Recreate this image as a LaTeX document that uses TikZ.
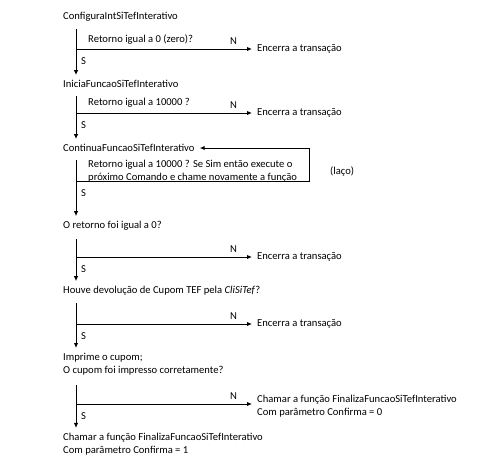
\documentclass[tikz,border=0pt]{standalone}
\usepackage{fontspec}
\setmainfont{Carlito}
\usetikzlibrary{arrows.meta}

\tikzset{
	txt/.style={anchor=west, inner sep=0pt, font=\fontsize{10.6}{12.6}\selectfont},
	lbl/.style={inner sep=1pt, font=\fontsize{10.6}{12.6}\selectfont},
	flow/.style={-{Latex[length=5pt,width=4.5pt]}, line width=1pt, shorten >=5pt},
	loop/.style={-{Latex[length=5pt,width=4.5pt]}, line width=1pt}
}

\begin{document}
\begin{tikzpicture}[x=1pt,y=-1pt]
	\useasboundingbox (0,0) rectangle (488,474);

	\node[txt] (cfg)  at (63,17)  {ConfiguraIntSiTefInterativo};
	\node[txt] (q1)   at (88,40)  {Retorno igual a 0 (zero)?};
	\node[txt] (e1)   at (257,49) {Encerra a transação};
	\node[txt] (ini)  at (63,84)  {IniciaFuncaoSiTefInterativo};
	\node[txt] (q2)   at (88,103) {Retorno igual a 10000 ?};
	\node[txt] (e2)   at (257,113) {Encerra a transação};
	\node[txt] (cont) at (63,148) {ContinuaFuncaoSiTefInterativo};
	\node[txt, align=left] (q3) at (88,171) {Retorno igual a 10000 ? Se Sim então execute o\\próximo Comando e chame novamente a função};
	\node[txt] (laco) at (330,172) {(laço)};
	\node[txt] (ret)  at (63,226) {O retorno foi igual a 0?};
	\node[txt] (e3)   at (257,257) {Encerra a transação};
	\node[txt] (dev)  at (63,291) {Houve devolução de Cupom TEF pela \textit{CliSiTef}?};
	\node[txt] (e4)   at (257,324) {Encerra a transação};
	\node[txt, align=left] (imp)  at (63,364) {Imprime o cupom;\\O cupom foi impresso corretamente?};
	\node[txt, align=left] (fin0) at (257,406) {Chamar a função FinalizaFuncaoSiTefInterativo\\Com parâmetro Confirma = 0};
	\node[txt, align=left] (fin1) at (63,444) {Chamar a função FinalizaFuncaoSiTefInterativo\\Com parâmetro Confirma = 1};

	\coordinate (t1) at (76,29);  \coordinate (j1) at (76,49);
	\coordinate (t2) at (76,96);  \coordinate (j2) at (76,113);
	\coordinate (t3) at (76,160); \coordinate (j3) at (76,181);
	\coordinate (lc) at (309,181);
	\coordinate (t4) at (76,239); \coordinate (j4) at (76,257);
	\coordinate (t5) at (76,303); \coordinate (j5) at (76,324);
	\coordinate (t6) at (76,385); \coordinate (j6) at (76,404);

	\draw[flow] (t1) -- (t1 |- ini.north);
	\draw[flow] (j1) -- node[lbl, pos=.87, above=3pt]{N} (j1 -| e1.west);
	\node[lbl, anchor=west] (s1) at ([xshift=4pt, yshift=-12pt]j1) {S};

	\draw[flow] (t2) -- (t2 |- cont.north);
	\draw[flow] (j2) -- node[lbl, pos=.87, above=3pt]{N} (j2 -| e2.west);
	\node[lbl, anchor=west] (s2) at ([xshift=4pt, yshift=-12pt]j2) {S};

	\draw[flow] (t3) -- (t3 |- ret.north);
	\draw[loop] (j3) -- (lc) |- ([xshift=5pt]cont.east);
	\node[lbl, anchor=west] (s3) at ([xshift=4pt, yshift=-12pt]j3) {S};

	\draw[flow] (t4) -- (t4 |- dev.north);
	\draw[flow] (j4) -- node[lbl, pos=.87, above=3pt]{N} (j4 -| e3.west);
	\node[lbl, anchor=west] (s4) at ([xshift=4pt, yshift=-12pt]j4) {S};

	\draw[flow] (t5) -- (t5 |- imp.north);
	\draw[flow] (j5) -- node[lbl, pos=.87, above=3pt]{N} (j5 -| e4.west);
	\node[lbl, anchor=west] (s5) at ([xshift=4pt, yshift=-12pt]j5) {S};

	\draw[flow] (t6) -- (t6 |- fin1.north);
	\draw[flow] (j6) -- node[lbl, pos=.87, above=3pt]{N} (j6 -| fin0.west);
	\node[lbl, anchor=west] (s6) at ([xshift=4pt, yshift=-12pt]j6) {S};

\end{tikzpicture}
\end{document}
